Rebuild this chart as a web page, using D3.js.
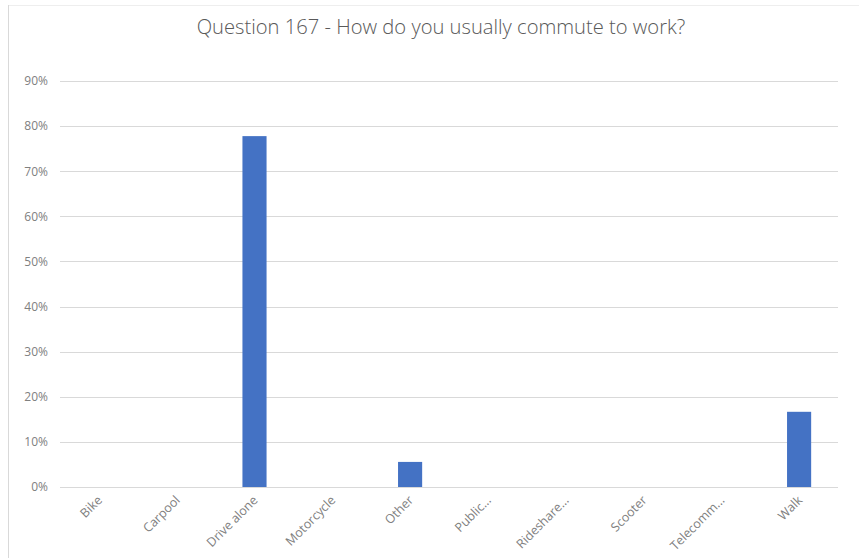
<!DOCTYPE html>
<html><head><meta charset="utf-8">
<script src="https://cdn.jsdelivr.net/npm/d3@7"></script>
<style>body{margin:0;background:#fff;}svg{display:block;font-family:"Open Sans",sans-serif;}</style>
</head><body><svg id="c" width="859" height="558"></svg>
<script>
const titleText = "Question 167 - How do you usually commute to work?";
const categories = ["Bike","Carpool","Drive alone","Motorcycle","Other","Public...","Rideshare...","Scooter","Telecomm...","Walk"];
const values = [0, 0, 0.7778, 0, 0.0556, 0, 0, 0, 0, 0.1667];
const yTicks = [0,0.1,0.2,0.3,0.4,0.5,0.6,0.7,0.8,0.9];

const svg = d3.select("#c");
const m = {left:60, right:21, top:81, bottom:71};
const W = 859, H = 558;

// frame lines
svg.append("line").attr("x1",8).attr("x2",859).attr("y1",5.5).attr("y2",5.5).attr("stroke","#eeeeee");
svg.append("line").attr("x1",8.5).attr("x2",8.5).attr("y1",5).attr("y2",558).attr("stroke","#d9d9d9");

const x = d3.scaleBand().domain(categories).range([m.left, W-m.right]).paddingInner(0.69).paddingOuter(0.345);
const y = d3.scaleLinear().domain([0,0.9]).range([H-m.bottom, m.top]);

// gridlines
const gy = svg.append("g").attr("transform",`translate(${m.left},0)`)
  .call(d3.axisLeft(y).tickValues(yTicks).tickSize(-(W-m.left-m.right)).tickFormat(d3.format(".0%")).tickPadding(12));
gy.select(".domain").remove();
gy.selectAll(".tick line").attr("stroke","#d9d9d9").attr("shape-rendering","crispEdges");
gy.selectAll(".tick text").attr("fill","#808080").style("font-size","12px").attr("font-family","Open Sans");

// bars
svg.append("g").selectAll("rect").data(categories).join("rect")
  .attr("x", d=>x(d)).attr("width", x.bandwidth())
  .attr("y", (d,i)=>y(values[i])).attr("height",(d,i)=>y(0)-y(values[i]))
  .attr("fill","#4472c4");

// x labels
const gx = svg.append("g").attr("transform",`translate(0,${H-m.bottom})`)
  .call(d3.axisBottom(x).tickSize(0).tickPadding(0));
gx.select(".domain").remove();
gx.selectAll(".tick text")
  .attr("fill","#808080").style("font-size","12.5px").attr("font-family","Open Sans")
  .attr("text-anchor","end").attr("dy","0")
  .attr("transform","translate(4,14) rotate(-45)");

// title
const t = svg.append("text").attr("x",441).attr("y",34).attr("text-anchor","middle")
  .attr("fill","#595959").style("font-size","19px").style("font-weight","300").attr("font-family","Open Sans").text(titleText);
const len = t.node().getComputedTextLength();
t.style("font-size", (19*489/len).toFixed(2)+"px");
</script></body></html>
